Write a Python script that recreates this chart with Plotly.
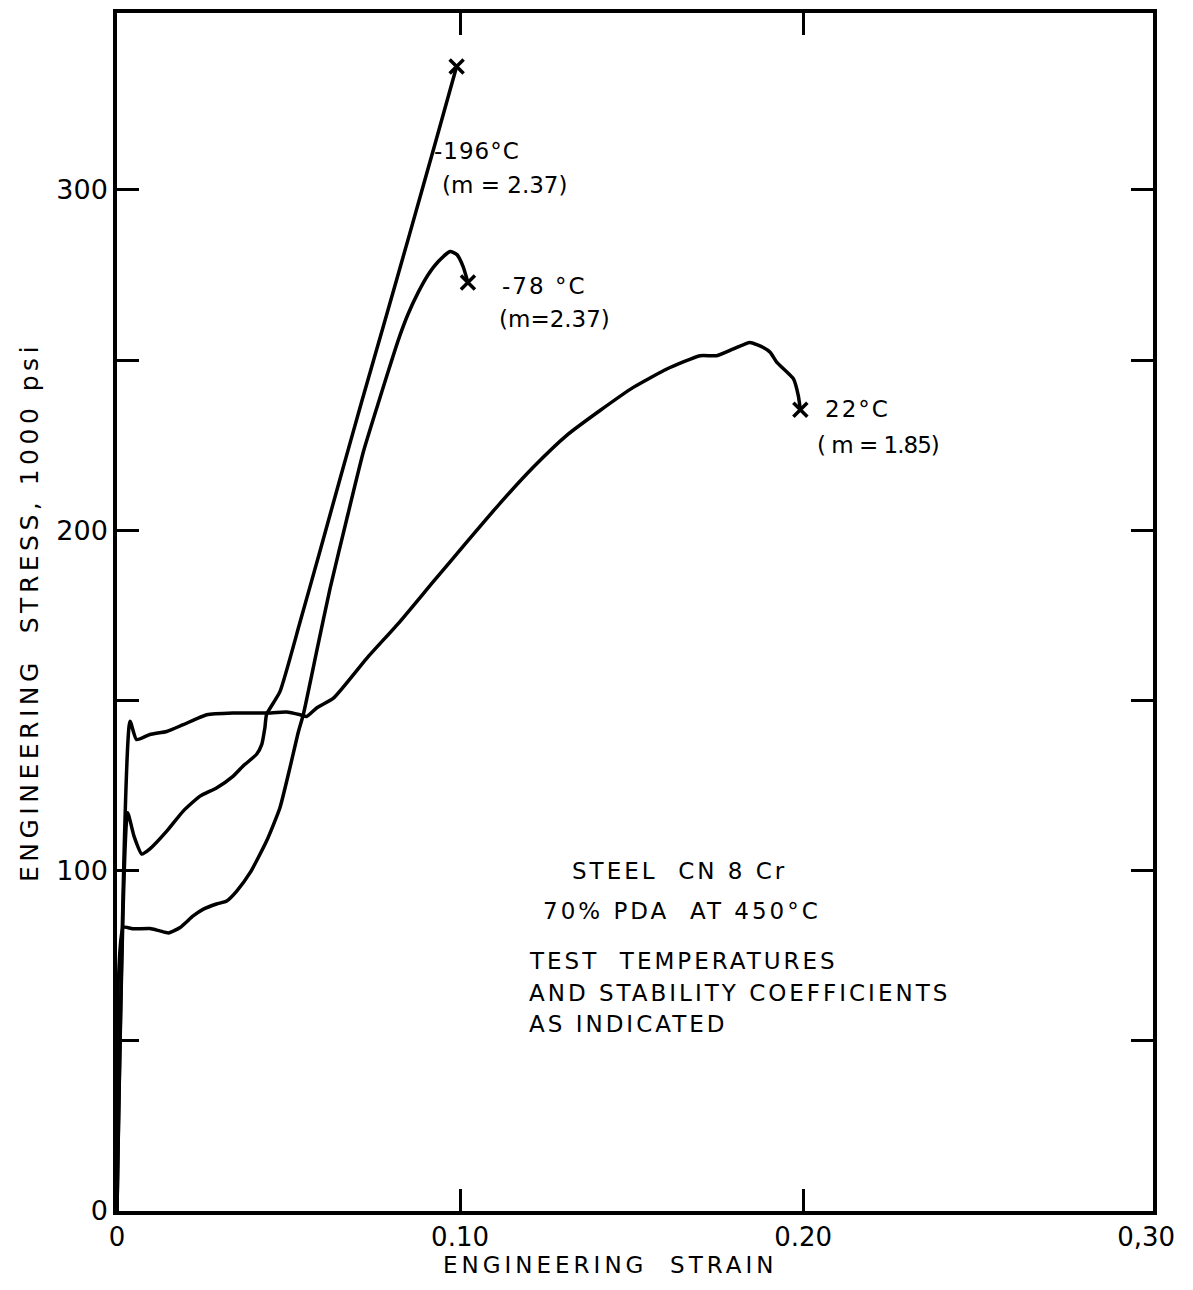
import plotly.graph_objects as go

# Engineering stress-strain curves, steel CN 8 Cr, 70% PDA at 450 C
strain_m196 = [0.0, 0.0031, 0.0050, 0.0072, 0.0096, 0.0145, 0.0193, 0.0242, 0.0290,
               0.0338, 0.0367, 0.0407, 0.0422, 0.0431, 0.0436, 0.0475, 0.0534, 0.0592,
               0.0650, 0.0713, 0.0781, 0.0854, 0.0927, 0.0990]
stress_m196 = [0.0, 117.0, 110.0, 104.9, 106.4, 111.6, 117.5, 121.9, 124.3,
               127.7, 130.7, 134.2, 137.1, 141.9, 145.9, 152.6, 173.2, 194.0,
               215.1, 237.7, 261.6, 287.4, 313.5, 336.3]

strain_m78 = [0.0, 0.0018, 0.0048, 0.0096, 0.0125, 0.0150, 0.0184, 0.0222, 0.0252,
              0.0290, 0.0320, 0.0349, 0.0388, 0.0436, 0.0475, 0.0504, 0.0529, 0.0543,
              0.0582, 0.0621, 0.0670, 0.0718, 0.0762, 0.0790, 0.0819, 0.0848, 0.0878,
              0.0907, 0.0936, 0.0971, 0.0991, 0.1009, 0.1023]
stress_m78 = [0.0, 83.3, 82.9, 83.0, 82.3, 81.7, 83.3, 86.7, 88.7,
              90.2, 91.1, 94.0, 99.4, 108.7, 118.5, 130.2, 140.9, 145.8,
              164.4, 182.9, 203.4, 223.0, 237.5, 246.5, 255.6, 263.4, 269.9,
              275.1, 278.9, 281.9, 281.0, 277.5, 272.8]

strain_22 = [0.0, 0.0038, 0.0057, 0.0096, 0.0145, 0.0193, 0.0262, 0.0339, 0.0388,
             0.0436, 0.0494, 0.0534, 0.0553, 0.0582, 0.0631, 0.0728, 0.0825, 0.0922,
             0.1020, 0.1117, 0.1214, 0.1311, 0.1408, 0.1505, 0.1603, 0.1700, 0.1748,
             0.1797, 0.1845, 0.1884, 0.1904, 0.1923, 0.1972, 0.1986, 0.1992]
stress_22 = [0.0, 143.9, 138.5, 140.0, 140.9, 142.9, 145.8, 146.3, 146.3,
             146.3, 146.6, 145.8, 145.3, 147.8, 150.7, 162.4, 173.2, 184.9,
             196.6, 208.0, 218.6, 227.9, 235.2, 242.0, 247.4, 251.3, 251.3,
             253.3, 255.2, 253.7, 252.3, 249.4, 244.5, 239.6, 235.4]

# Curve labels: test temperature and stability coefficient
curve_labels = ["-196°C", "(m = 2.37)", "-78 °C", "(m=2.37)", "22°C", "( m = 1.85)"]
curve_label_x = [0.0918, 0.0942, 0.1117, 0.1108, 0.2058, 0.2035]
curve_label_y = [311.5, 301.5, 271.9, 262.2, 235.6, 225.0]
curve_label_spacing = [1, 0, 2, 0, 2, -1]

note_lines = ["STEEL  CN 8 Cr", "70% PDA  AT 450°C", "TEST  TEMPERATURES",
              "AND STABILITY COEFFICIENTS", "AS INDICATED"]
note_x = [0.1321, 0.1236, 0.1195, 0.1195, 0.1195]
note_y = [99.9, 88.2, 73.5, 64.2, 54.8]

x_tickvals = [0, 0.10, 0.20, 0.30]
x_ticktext = ["0", "0.10", "0.20", "0,30"]
y_tickvals = [0, 50, 100, 150, 200, 250, 300]
y_ticktext = ["0", "", "100", "", "200", "", "300"]

x_title = "ENGINEERING  STRAIN"
y_title = "ENGINEERING  STRESS, 1000 psi"

FONT = "DejaVu Sans"
INK = "black"

fig = go.Figure()
for sx, sy in [(strain_m196, stress_m196), (strain_m78, stress_m78), (strain_22, stress_22)]:
    fig.add_trace(go.Scatter(x=sx, y=sy, mode="lines",
                             line=dict(color=INK, width=3.5, shape="spline", smoothing=0.5),
                             showlegend=False, hoverinfo="skip"))

# fracture points
fig.add_trace(go.Scatter(
    x=[strain_m196[-1], strain_m78[-1], strain_22[-1]],
    y=[stress_m196[-1], stress_m78[-1], stress_22[-1]],
    mode="markers",
    marker=dict(symbol="x-thin", size=14, line=dict(color=INK, width=3.5)),
    showlegend=False, hoverinfo="skip"))


def spaced(t, ls):
    return f'<span style="letter-spacing:{ls}px">{t}</span>'


for t, x, y, ls in zip(curve_labels, curve_label_x, curve_label_y, curve_label_spacing):
    fig.add_annotation(x=x, y=y, xref="x", yref="y", text=spaced(t, ls),
                       showarrow=False, xanchor="left", yanchor="middle",
                       font=dict(family=FONT, size=23, color=INK))

for t, x, y in zip(note_lines, note_x, note_y):
    fig.add_annotation(x=x, y=y, xref="x", yref="y", text=spaced(t, 3),
                       showarrow=False, xanchor="left", yanchor="middle",
                       font=dict(family=FONT, size=23, color=INK))

# axis titles
fig.add_annotation(x=0.1437, y=0, xref="x", yref="paper", yshift=-54,
                   text=spaced(x_title, 4), showarrow=False,
                   xanchor="center", yanchor="middle",
                   font=dict(family=FONT, size=23, color=INK))
fig.add_annotation(x=0, y=176, xref="paper", yref="y", xshift=-88,
                   text=spaced(y_title, 4.5), textangle=-90, showarrow=False,
                   xanchor="center", yanchor="middle",
                   font=dict(family=FONT, size=25, color=INK))

fig.update_xaxes(
    range=[0, 0.302], showgrid=False, zeroline=False,
    showline=True, linecolor=INK, linewidth=3.5, mirror="ticks",
    tickmode="array", tickvals=x_tickvals, ticktext=x_ticktext, ticks="",
    minor=dict(tickmode="array", tickvals=[0.10, 0.20], ticks="inside",
               ticklen=22, tickwidth=3, tickcolor=INK),
    tickfont=dict(family=FONT, size=26, color=INK),
)
fig.update_yaxes(
    range=[0, 352], showgrid=False, zeroline=False,
    showline=True, linecolor=INK, linewidth=3.5, mirror="ticks",
    tickmode="array", tickvals=y_tickvals, ticktext=y_ticktext,
    ticks="inside", ticklen=22, tickwidth=3, tickcolor=INK,
    tickfont=dict(family=FONT, size=27, color=INK),
)
fig.update_layout(
    width=1193, height=1290,
    margin=dict(l=117, r=40, t=9, b=79),
    paper_bgcolor="white", plot_bgcolor="white",
)
fig.write_html("out.html")
